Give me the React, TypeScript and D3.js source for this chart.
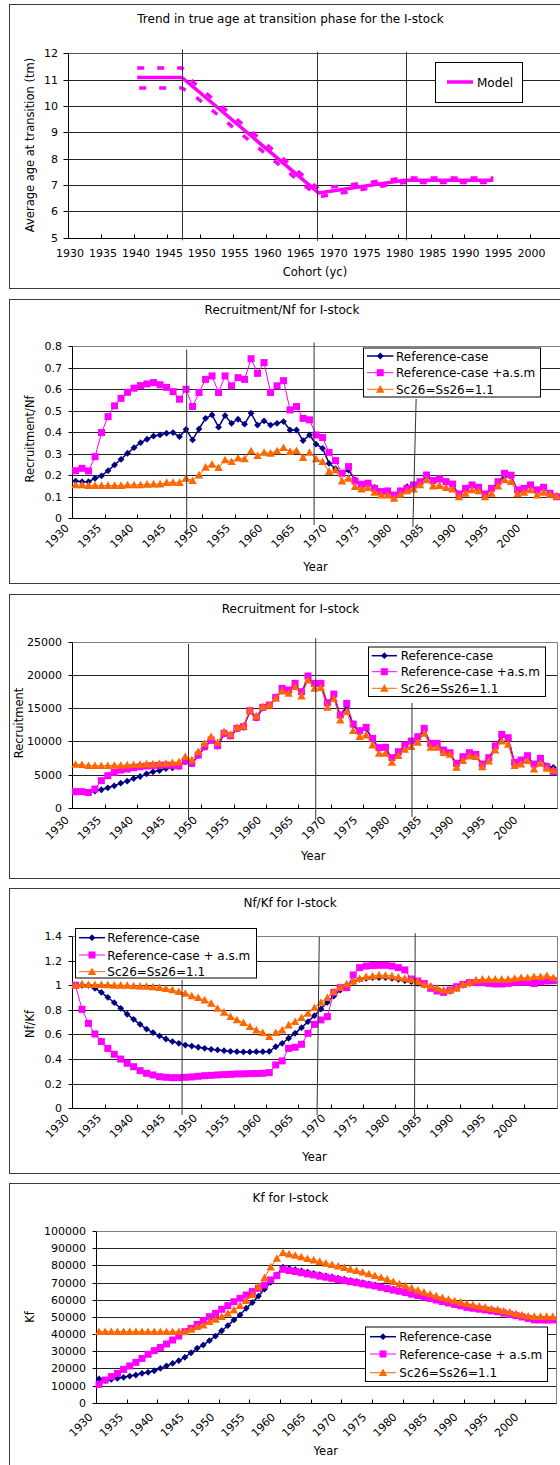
import React from "react";
import * as d3 from "d3";

const FONT = "'DejaVu Sans', Verdana, sans-serif";
const NAVY = "#000080";
const MAGENTA = "#FF00FF";
const ORANGE = "#FF6600";

// ---------- categories ----------
const YEARS: number[] = Array.from({ length: 75 }, (_, i) => 1930 + i);
const X_LABELS = [1930, 1935, 1940, 1945, 1950, 1955, 1960, 1965, 1970, 1975, 1980, 1985, 1990, 1995, 2000];

// ---------- panel 1: age at transition ----------
const P1_Y_TICKS = [5, 6, 7, 8, 9, 10, 11, 12];
const COHORT_MODEL = [1940.5, 1947.3, 1968, 1981, 1994.5];
const AGE_MODEL = [11.08, 11.08, 6.7, 7.18, 7.18];
const COHORT_BAND = [1940.5, 1947.3, 1949, 1968, 1981, 1994.5];
const AGE_UPPER = [11.44, 11.44, 10.9, 6.86, 7.27, 7.27];
const AGE_LOWER = [10.68, 10.68, 10.42, 6.55, 7.1, 7.1];

// ---------- panel 2: Recruitment/Nf ----------
const RNF_REF = [
  0.173, 0.17, 0.17, 0.186, 0.197, 0.221, 0.248, 0.274, 0.302, 0.328,
  0.351, 0.367, 0.382, 0.387, 0.395, 0.398, 0.379, 0.413, 0.364, 0.415,
  0.464, 0.48, 0.423, 0.477, 0.441, 0.46, 0.437, 0.488, 0.433, 0.452,
  0.433, 0.441, 0.449, 0.41, 0.41, 0.361, 0.387, 0.344, 0.325, 0.255,
  0.23, 0.209, 0.224, 0.178, 0.158, 0.163, 0.144, 0.124, 0.124, 0.108,
  0.124, 0.147, 0.155, 0.165, 0.195, 0.172, 0.178, 0.165, 0.155, 0.11,
  0.135, 0.15, 0.14, 0.11, 0.135, 0.165, 0.195, 0.195, 0.13, 0.135,
  0.15, 0.13, 0.14, 0.118, 0.105,
];
const RNF_ASM = [
  0.221, 0.232, 0.22, 0.286, 0.398, 0.472, 0.522, 0.557, 0.585, 0.604,
  0.616, 0.624, 0.63, 0.62, 0.608, 0.588, 0.553, 0.599, 0.519, 0.584,
  0.645, 0.661, 0.584, 0.661, 0.615, 0.653, 0.645, 0.741, 0.673, 0.723,
  0.584, 0.615, 0.639, 0.503, 0.519, 0.464, 0.457, 0.387, 0.375, 0.306,
  0.268, 0.209, 0.24, 0.173, 0.158, 0.163, 0.139, 0.124, 0.127, 0.108,
  0.127, 0.139, 0.155, 0.17, 0.201, 0.175, 0.183, 0.17, 0.159, 0.113,
  0.139, 0.155, 0.144, 0.113, 0.139, 0.17, 0.209, 0.2, 0.132, 0.139,
  0.155, 0.132, 0.144, 0.116, 0.1,
];
const RNF_SC = [
  0.155, 0.155, 0.152, 0.152, 0.152, 0.152, 0.152, 0.152, 0.155, 0.155,
  0.155, 0.158, 0.159, 0.159, 0.166, 0.167, 0.166, 0.186, 0.175, 0.201,
  0.237, 0.251, 0.235, 0.271, 0.263, 0.279, 0.276, 0.313, 0.291, 0.306,
  0.302, 0.313, 0.328, 0.31, 0.314, 0.282, 0.306, 0.276, 0.263, 0.217,
  0.224, 0.173, 0.186, 0.147, 0.136, 0.142, 0.121, 0.108, 0.108, 0.093,
  0.111, 0.127, 0.136, 0.155, 0.178, 0.15, 0.152, 0.142, 0.135, 0.1,
  0.116, 0.132, 0.127, 0.1, 0.116, 0.15, 0.178, 0.17, 0.113, 0.121,
  0.132, 0.108, 0.121, 0.111, 0.104,
];

// ---------- panel 3: Recruitment ----------
const REC_REF = [
  2400, 2400, 2250, 2500, 2700, 3000, 3300, 3700, 4000, 4400,
  4700, 5100, 5400, 5600, 5900, 6000, 6200, 6900, 6600, 7850,
  9100, 10100, 9250, 11100, 10750, 11850, 12100, 14500, 13500, 15000,
  15350, 16500, 17800, 17550, 18500, 17300, 19600, 18500, 18500, 15600,
  16900, 13800, 15200, 12400, 11400, 11900, 10300, 8900, 8950, 7400,
  8300, 9300, 9900, 10500, 11750, 9550, 9550, 8550, 8150, 6550,
  7550, 8150, 7900, 6450, 7400, 9150, 10800, 10350, 6700, 7050,
  7700, 6450, 7300, 6330, 6070,
];
const REC_ASM = [
  2410, 2410, 2300, 2810, 4070, 4820, 5320, 5670, 5820, 6020,
  6170, 6280, 6330, 6380, 6430, 6380, 6280, 7030, 6680, 7930,
  9190, 10190, 9340, 11190, 10840, 11950, 12200, 14610, 13600, 15110,
  15460, 16620, 17970, 17720, 18720, 17470, 19830, 18720, 18720, 15810,
  17120, 13960, 15710, 12600, 11600, 12100, 10440, 9040, 9090, 7530,
  8430, 9440, 10040, 10690, 11950, 9690, 9690, 8680, 8280, 6680,
  7680, 8280, 8030, 6580, 7530, 9290, 11040, 10540, 6830, 7180,
  7830, 6580, 7430, 6170, 5420,
];
const REC_SC = [
  6530, 6480, 6330, 6330, 6330, 6330, 6380, 6380, 6430, 6480,
  6530, 6580, 6580, 6680, 6680, 6780, 6880, 7680, 7180, 8430,
  9690, 10690, 9790, 11450, 11040, 12100, 12300, 14710, 13800, 15210,
  15460, 16470, 17570, 17220, 18220, 16820, 19230, 17970, 18070, 15110,
  16470, 13200, 14460, 11600, 10690, 10940, 9440, 8180, 8180, 6830,
  7830, 8790, 9190, 9840, 11190, 9090, 9090, 8280, 8030, 6070,
  7080, 7780, 7680, 6170, 7030, 8680, 10040, 9540, 6330, 6580,
  7080, 5820, 6680, 5920, 5670,
];

// ---------- panel 4: Nf/Kf ----------
const NFKF_REF = [
  1.0, 1.0, 1.0, 0.975, 0.942, 0.902, 0.858, 0.812, 0.764, 0.723,
  0.682, 0.644, 0.615, 0.588, 0.563, 0.542, 0.528, 0.514, 0.506, 0.496,
  0.487, 0.479, 0.474, 0.468, 0.463, 0.46, 0.458, 0.458, 0.46, 0.46,
  0.462, 0.5, 0.528, 0.569, 0.609, 0.655, 0.704, 0.753, 0.807, 0.861,
  0.912, 0.961, 1.002, 1.029, 1.048, 1.056, 1.061, 1.061, 1.061, 1.056,
  1.048, 1.037, 1.029, 1.015, 1.002, 0.988, 0.969, 0.953, 0.953, 0.975,
  1.0, 1.015, 1.024, 1.026, 1.028, 1.028, 1.028, 1.03, 1.03, 1.032,
  1.032, 1.034, 1.036, 1.038, 1.04,
];
const NFKF_ASM = [
  1.0, 0.804, 0.69, 0.604, 0.542, 0.487, 0.439, 0.4, 0.366, 0.338,
  0.306, 0.284, 0.271, 0.257, 0.252, 0.249, 0.249, 0.252, 0.255, 0.26,
  0.265, 0.268, 0.271, 0.274, 0.276, 0.279, 0.28, 0.282, 0.283, 0.284,
  0.29, 0.352, 0.385, 0.487, 0.496, 0.52, 0.609, 0.682, 0.718, 0.745,
  0.942, 0.98, 0.98, 1.083, 1.143, 1.156, 1.16, 1.162, 1.162, 1.156,
  1.143, 1.124, 1.05, 1.034, 1.015, 0.975, 0.953, 0.942, 0.961, 0.988,
  1.007, 1.021, 1.021, 1.021, 1.015, 1.01, 1.01, 1.015, 1.021, 1.024,
  1.024, 1.013, 1.029, 1.034, 1.037,
];
const NFKF_SC = [
  1.0, 1.01, 1.005, 1.005, 1.005, 1.003, 1.0, 1.0, 0.998, 0.995,
  0.993, 0.99, 0.986, 0.98, 0.972, 0.962, 0.948, 0.934, 0.913, 0.899,
  0.88, 0.853, 0.812, 0.78, 0.745, 0.718, 0.696, 0.663, 0.636, 0.615,
  0.582, 0.615, 0.636, 0.677, 0.704, 0.737, 0.772, 0.818, 0.861, 0.899,
  0.948, 0.983, 1.01, 1.034, 1.053, 1.07, 1.075, 1.083, 1.08, 1.075,
  1.065, 1.056, 1.045, 1.029, 1.007, 0.994, 0.975, 0.961, 0.961, 0.975,
  1.007, 1.024, 1.042, 1.048, 1.048, 1.048, 1.048, 1.048, 1.056, 1.061,
  1.061, 1.07, 1.07, 1.078, 1.061,
];

// ---------- panel 5: Kf ----------
const KF_REF = [
  13800, 12800, 13600, 14200, 14800, 15500, 16100, 17100, 17700, 18600,
  20000, 21400, 22900, 24500, 26400, 29100, 31700, 33600, 36100, 38800,
  41900, 44900, 48200, 51100, 55000, 58300, 62100, 66200, 70100, 74400,
  78900, 78200, 77500, 76800, 76100, 75300, 74600, 73900, 73200, 72500,
  71900, 71200, 70600, 69900, 69200, 68600, 67800, 67000, 66200, 65400,
  64600, 63700, 62800, 61900, 61100, 60200, 59300, 58400, 57500, 56700,
  55800, 55300, 54800, 54200, 53700, 53200, 52400, 51600, 50900, 50100,
  49300, 48500, 48500, 48400, 48500,
];
const KF_ASM = [
  10700, 13200, 15200, 17100, 19400, 21400, 23500, 25800, 28200, 30300,
  32200, 34200, 36500, 38800, 41400, 43300, 45600, 47800, 50100, 52000,
  54400, 56500, 58800, 60800, 62700, 64700, 66600, 68500, 71500, 74000,
  77700, 77000, 76400, 75700, 75000, 74400, 73700, 73100, 72400, 71700,
  71100, 70500, 69900, 69200, 68600, 68000, 67200, 66400, 65600, 64900,
  64100, 63200, 62400, 61500, 60700, 59800, 58900, 58100, 57200, 56400,
  55500, 55000, 54500, 54000, 53500, 53000, 52200, 51400, 50700, 49900,
  49100, 48200, 48200, 48100, 48200,
];
const KF_SC = [
  41400, 41400, 41400, 41400, 41400, 41400, 41400, 41400, 41400, 41400,
  41400, 41400, 41400, 41400, 41400, 42700, 44300, 45200, 47200, 48500,
  50100, 52000, 54000, 56500, 59500, 63000, 67500, 72800, 79000, 84000,
  87400, 86600, 85800, 84900, 83900, 83100, 82200, 81200, 80400, 79500,
  78700, 77700, 76900, 76000, 75000, 74000, 73000, 71900, 70500, 69200,
  68000, 66800, 65500, 64300, 63200, 62200, 61200, 60200, 59300, 58500,
  57700, 57000, 56200, 55600, 54800, 54200, 53500, 52700, 51900, 51100,
  50400, 50200, 50200, 50200, 50200,
];

const NAME_REF = "Reference-case";
const NAME_ASM_A = "Reference-case +a.s.m";
const NAME_ASM_B = "Reference-case + a.s.m";
const NAME_SC = "Sc26=Ss26=1.1";

type Marker = "diamond" | "square" | "triangle";
interface Series { name: string; values: number[]; color: string; marker: Marker; width: number }

function markerEl(kind: Marker, cx: number, cy: number, color: string, key: string | number) {
  if (kind === "diamond") {
    const r = 3.4;
    return <path key={key} d={`M${cx},${cy - r}L${cx + r},${cy}L${cx},${cy + r}L${cx - r},${cy}Z`} fill={color} />;
  }
  if (kind === "square") {
    const s = 3.5;
    return <rect key={key} x={cx - s} y={cy - s} width={2 * s} height={2 * s} fill={color} />;
  }
  const w = 4.2, h = 3.8;
  return <path key={key} d={`M${cx},${cy - h - 0.4}L${cx + w},${cy + h - 0.4}L${cx - w},${cy + h - 0.4}Z`} fill={color} />;
}

const crisp = (v: number) => Math.round(v) + 0.5;

function Frame({ top, bottom }: { top: number; bottom: number }) {
  return <rect x={9.5} y={top + 0.5} width={560} height={bottom - top} fill="#fff" stroke="#3a3a3a" strokeWidth={1} />;
}

// ---------- Panel 1 ----------
function Panel1() {
  const x = d3.scaleLinear().domain([1930, 2005]).range([68, 562.5]);
  const y = d3.scaleLinear().domain([5, 12]).range([237.7, 53.3]);
  const ticks = d3.range(1930, 2001, 5);
  const line = d3.line<number>().x((_, i) => x(COHORT_MODEL[i])).y((d) => y(d));
  const bandLine = d3.line<number>().x((_, i) => x(COHORT_BAND[i])).y((d) => y(d));
  const x0 = crisp(x(1930));
  const yb = crisp(y(5));
  const vl = [
    { x: 1947.3, y1: 12.15, y2: 4.9 },
    { x: 1967.8, y1: 12.05, y2: 4.88 },
    { x: 1981.2, y1: 12.05, y2: 4.9 },
  ];
  return (
    <g>
      <Frame top={4} bottom={288} />
      <text x={290.5} y={23} textAnchor="middle" fontSize={12} fontFamily={FONT}>
        Trend in true age at transition phase for the I-stock
      </text>
      {P1_Y_TICKS.map((t) => (
        <g key={t}>
          {t > 5 && <line x1={x0} x2={565} y1={crisp(y(t))} y2={crisp(y(t))} stroke={t === 12 ? "#555" : "#222"} strokeWidth={1} />}
          <line x1={x0 - 5} x2={x0} y1={crisp(y(t))} y2={crisp(y(t))} stroke="#000" />
          <text x={58} y={y(t) + 4} textAnchor="end" fontSize={11} fontFamily={FONT}>{t}</text>
        </g>
      ))}
      <line x1={x0} x2={x0} y1={y(12)} y2={yb} stroke="#000" />
      <line x1={x0} x2={565} y1={yb} y2={yb} stroke="#000" />
      {ticks.map((t) => (
        <g key={t}>
          <line x1={crisp(x(t))} x2={crisp(x(t))} y1={yb} y2={yb - 4} stroke="#000" />
          <text x={x(t) + 2} y={257} textAnchor="middle" fontSize={11} fontFamily={FONT}>{t}</text>
        </g>
      ))}
      <text x={315} y={276} textAnchor="middle" fontSize={11.5} fontFamily={FONT}>Cohort (yc)</text>
      <text transform={`translate(34,145) rotate(-90)`} textAnchor="middle" fontSize={11.5} fontFamily={FONT}>
        Average age at transition (tm)
      </text>
      <path d={bandLine(AGE_UPPER) || ""} fill="none" stroke={MAGENTA} strokeWidth={3.5} strokeDasharray="7,13" />
      <path d={bandLine(AGE_LOWER) || ""} fill="none" stroke={MAGENTA} strokeWidth={3.5} strokeDasharray="7,13" strokeDashoffset={-2} />
      <path d={line(AGE_MODEL) || ""} fill="none" stroke={MAGENTA} strokeWidth={3.5} strokeLinejoin="round" />
      {vl.map((v, i) => (
        <line key={i} x1={crisp(x(v.x))} x2={crisp(x(v.x))} y1={y(v.y1)} y2={y(v.y2)} stroke="#333" />
      ))}
      <rect x={435.5} y={62.5} width={87} height={40} fill="#fff" stroke="#000" />
      <line x1={447} x2={473} y1={82} y2={82} stroke={MAGENTA} strokeWidth={3.5} />
      <text x={477} y={86.5} fontSize={12} fontFamily={FONT}>Model</text>
    </g>
  );
}

// ---------- category panels ----------
interface VLine { x1: number; y1: number; x2: number; y2: number }
interface Legend { x: number; y: number; w: number; h: number; rows: number[]; sx0: number; sx1: number; tx: number }
interface CatCfg {
  top: number; bottom: number;
  title: string; titleX: number; titleY: number;
  xRange: [number, number];
  yMax: number; yRange: [number, number]; yTicks: number[];
  yTitle: string; yTitleX: number; yTitleY: number;
  xTitleX: number; xTitleY: number; labelDy: number;
  series: Series[]; legend: Legend; vlines: VLine[];
}

function CatPanel({ c }: { c: CatCfg }) {
  const x = d3.scaleLinear().domain([1930, 2005]).range(c.xRange);
  const y = d3.scaleLinear().domain([0, c.yMax]).range(c.yRange);
  const x0 = crisp(c.xRange[0]);
  const x1 = crisp(c.xRange[1]);
  const yb = crisp(y(0));
  const yt = crisp(y(c.yMax));
  const mk = (vals: number[]) =>
    d3.line<number>().x((_, i) => x(YEARS[i] + 0.5)).y((d) => y(d))(vals) || "";
  const fmt = (v: number) => String(+v.toFixed(2));
  return (
    <g>
      <Frame top={c.top} bottom={c.bottom} />
      <text x={c.titleX} y={c.titleY} textAnchor="middle" fontSize={12} fontFamily={FONT}>{c.title}</text>
      {c.yTicks.map((t) => (
        <g key={t}>
          {t > 0 && t < c.yMax && <line x1={x0} x2={x1} y1={crisp(y(t))} y2={crisp(y(t))} stroke="#222" />}
          <line x1={x0 - 4} x2={x0} y1={crisp(y(t))} y2={crisp(y(t))} stroke="#000" />
          <text x={x0 - 10.5} y={y(t) + 4} textAnchor="end" fontSize={11} fontFamily={FONT}>{fmt(t)}</text>
        </g>
      ))}
      <line x1={x0} x2={x1} y1={yt} y2={yt} stroke="#808080" />
      <line x1={x1} x2={x1} y1={yt} y2={yb} stroke="#808080" />
      <line x1={x0} x2={x0} y1={yt} y2={yb} stroke="#000" />
      <line x1={x0} x2={x1} y1={yb} y2={yb} stroke="#000" />
      {d3.range(1930, 2005, 5).map((t) => (
        <line key={t} x1={crisp(x(t))} x2={crisp(x(t))} y1={yb} y2={yb - 4} stroke="#000" />
      ))}
      {X_LABELS.map((t) => (
        <text
          key={t}
          transform={`translate(${x(t) - 2.5 - (t - 1930) * 0.05},${y(0) + c.labelDy}) rotate(-45)`}
          textAnchor="end"
          fontSize={11}
          fontFamily={FONT}
        >
          {t}
        </text>
      ))}
      <text x={c.xTitleX} y={c.xTitleY} textAnchor="middle" fontSize={11.5} fontFamily={FONT}>Year</text>
      <text transform={`translate(${c.yTitleX},${c.yTitleY}) rotate(-90)`} textAnchor="middle" fontSize={11.5} fontFamily={FONT}>
        {c.yTitle}
      </text>
      {c.series.map((s) => (
        <g key={s.name}>
          <path d={mk(s.values)} fill="none" stroke={s.color} strokeWidth={s.width} />
          {s.values.map((v, i) => markerEl(s.marker, x(YEARS[i] + 0.5), y(v), s.color, i))}
        </g>
      ))}
      {c.vlines.map((v, i) => (
        <line key={i} x1={x(v.x1)} x2={x(v.x2)} y1={y(v.y1)} y2={y(v.y2)} stroke="#333" />
      ))}
      <rect x={c.legend.x + 0.5} y={c.legend.y + 0.5} width={c.legend.w} height={c.legend.h} fill="#fff" stroke="#000" />
      {c.series.map((s, i) => (
        <g key={s.name}>
          <line x1={c.legend.sx0} x2={c.legend.sx1} y1={c.legend.rows[i]} y2={c.legend.rows[i]} stroke={s.color} strokeWidth={s.width} />
          {markerEl(s.marker, (c.legend.sx0 + c.legend.sx1) / 2, c.legend.rows[i], s.color, "m")}
          <text x={c.legend.tx} y={c.legend.rows[i] + 4.5} fontSize={12} fontFamily={FONT}>{s.name}</text>
        </g>
      ))}
    </g>
  );
}

const mkSeries = (ref: number[], asm: number[], sc: number[], asmName: string): Series[] => [
  { name: NAME_REF, values: ref, color: NAVY, marker: "diamond", width: 1.5 },
  { name: asmName, values: asm, color: MAGENTA, marker: "square", width: 1 },
  { name: NAME_SC, values: sc, color: ORANGE, marker: "triangle", width: 1 },
];

const P2: CatCfg = {
  top: 299, bottom: 583,
  title: "Recruitment/Nf for I-stock", titleX: 282, titleY: 314,
  xRange: [72.3, 559.8], yMax: 0.8, yRange: [518.3, 346],
  yTicks: [0, 0.1, 0.2, 0.3, 0.4, 0.5, 0.6, 0.7, 0.8],
  yTitle: "Recruitment/Nf", yTitleX: 33.5, yTitleY: 439,
  xTitleX: 315.5, xTitleY: 571, labelDy: 10.6,
  series: mkSeries(RNF_REF, RNF_ASM, RNF_SC, NAME_ASM_A),
  legend: { x: 363, y: 347.5, w: 177, h: 49, rows: [356, 372.7, 389.3], sx0: 367, sx1: 393.5, tx: 396 },
  vlines: [
    { x1: 1947.6, y1: 0.783, x2: 1947.6, y2: -0.078 },
    { x1: 1967.2, y1: 0.816, x2: 1967.2, y2: -0.031 },
    { x1: 1982.9, y1: 0.555, x2: 1982.4, y2: -0.04 },
  ],
};

const P3: CatCfg = {
  top: 594, bottom: 878,
  title: "Recruitment for I-stock", titleX: 290.5, titleY: 613,
  xRange: [72.3, 556.6], yMax: 25000, yRange: [807.7, 641.7],
  yTicks: [0, 5000, 10000, 15000, 20000, 25000],
  yTitle: "Recruitment", yTitleX: 22.5, yTitleY: 723,
  xTitleX: 313.3, xTitleY: 860, labelDy: 13,
  series: mkSeries(REC_REF, REC_ASM, REC_SC, NAME_ASM_A),
  legend: { x: 368, y: 646.5, w: 177, h: 49.5, rows: [655.7, 671.7, 688.3], sx0: 371.7, sx1: 397, tx: 400.7 },
  vlines: [
    { x1: 1948.0, y1: 24650, x2: 1948.0, y2: -1850 },
    { x1: 1967.7, y1: 25550, x2: 1967.7, y2: -1850 },
    { x1: 1982.6, y1: 15770, x2: 1982.6, y2: -1400 },
  ],
};

const P4: CatCfg = {
  top: 888, bottom: 1173,
  title: "Nf/Kf for I-stock", titleX: 290, titleY: 907,
  xRange: [72.3, 556.6], yMax: 1.4, yRange: [1108.3, 936],
  yTicks: [0, 0.2, 0.4, 0.6, 0.8, 1, 1.2, 1.4],
  yTitle: "Nf/Kf", yTitleX: 33.5, yTitleY: 1024,
  xTitleX: 314.5, xTitleY: 1161, labelDy: 10.6,
  series: mkSeries(NFKF_REF, NFKF_ASM, NFKF_SC, NAME_ASM_B),
  legend: { x: 75, y: 928, w: 181, h: 49.5, rows: [937.7, 955, 971.7], sx0: 79, sx1: 105, tx: 107.3 },
  vlines: [
    { x1: 1947.0, y1: 1.043, x2: 1947.0, y2: -0.054 },
    { x1: 1968.25, y1: 1.395, x2: 1967.9, y2: -0.054 },
    { x1: 1983.1, y1: 1.423, x2: 1983.0, y2: -0.054 },
  ],
};

const P5: CatCfg = {
  top: 1183, bottom: 1480,
  title: "Kf for I-stock", titleX: 290.5, titleY: 1202,
  xRange: [96, 555.8], yMax: 100000, yRange: [1402.7, 1231],
  yTicks: [0, 10000, 20000, 30000, 40000, 50000, 60000, 70000, 80000, 90000, 100000],
  yTitle: "Kf", yTitleX: 33.5, yTitleY: 1317,
  xTitleX: 325.8, xTitleY: 1455, labelDy: 15,
  series: mkSeries(KF_REF, KF_ASM, KF_SC, NAME_ASM_B),
  legend: { x: 365, y: 1326.5, w: 182, h: 54.5, rows: [1336.7, 1354, 1372.7], sx0: 370, sx1: 396, tx: 399.3 },
  vlines: [],
};

export default function App() {
  return (
    <svg width={560} height={1465} style={{ position: "absolute", left: 0, top: 0, background: "#fff" }}>
      <rect x={0} y={0} width={560} height={1465} fill="#fff" />
      <Panel1 />
      <CatPanel c={P2} />
      <CatPanel c={P3} />
      <CatPanel c={P4} />
      <CatPanel c={P5} />
    </svg>
  );
}
